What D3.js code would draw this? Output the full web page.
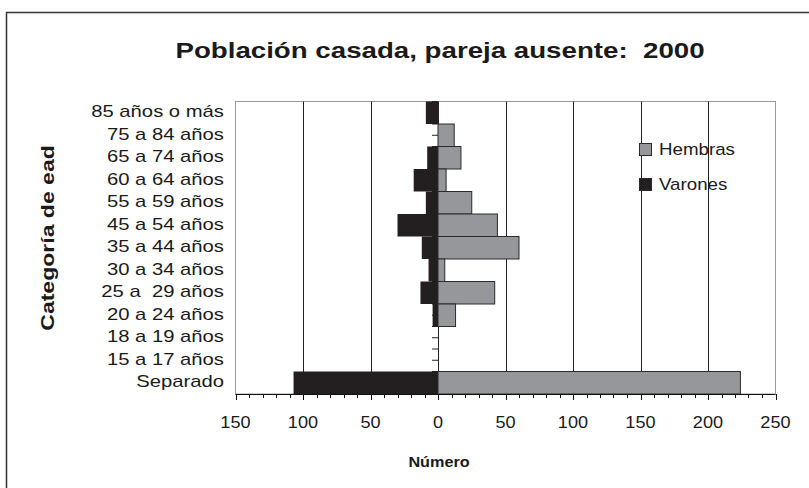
<!DOCTYPE html>
<html><head><meta charset="utf-8">
<script src="https://cdn.jsdelivr.net/npm/d3@7"></script>
<style>html,body{margin:0;padding:0;background:#fff;}svg{display:block;}svg text{white-space:pre;}</style>
</head><body>
<svg id="c" width="809" height="488"></svg>
<script>
const categories = ["85 años o más","75 a 84 años","65 a 74 años","60 a 64 años","55 a 59 años","45 a 54 años","35 a 44 años","30 a 34 años","25 a  29 años","20 a 24 años","18 a 19 años","15 a 17 años","Separado"];
const hembras = [0,12,17,6,25,44,60,5,42,13,0,0,224];
const varones = [9,0,8,18,9,30,12,7,13,4,0,0,107];
const xTicks = [-150,-100,-50,0,50,100,150,200,250];
const xTickLabels = ["150","100","50","0","50","100","150","200","250"];
const title = "Población casada, pareja ausente:  2000";
const yTitle = "Categoría de ead";
const xTitle = "Número";
const legendNames = ["Hembras","Varones"];

(function(){
const svg = d3.select("#c");
const font = "Liberation Sans, Arial, sans-serif";
const cF = "#96979b", cM = "#231f20";
const SX = 1.2;

// outer frame
svg.append("rect").attr("x",6.5).attr("y",12.5).attr("width",900).attr("height",600)
  .attr("fill","none").attr("stroke","#333").attr("stroke-width",1.5);

const x = d3.scaleLinear().domain([-150,250]).range([235.5,775.5]);
const y = d3.scaleBand().domain(categories).range([101.5,394]).padding(0);
const pTop = 101.5, pBot = 394;

// plot border
svg.append("rect").attr("x",x(-150)).attr("y",pTop).attr("width",x(250)-x(-150)).attr("height",pBot-pTop)
  .attr("fill","none").attr("stroke","#9a9a9a").attr("stroke-width",1);

// gridlines
svg.append("g").selectAll("line").data(xTicks.filter(d=>d>-150 && d<250)).join("line")
  .attr("x1",d=>Math.round(x(d))+0.5).attr("x2",d=>Math.round(x(d))+0.5)
  .attr("y1",pTop).attr("y2",pBot).attr("stroke","#222").attr("stroke-width",1);

// category axis ticks (half-band)
const half = y.bandwidth()/2;
const tk = d3.range(0, categories.length*2+1).map(i=>pTop+i*half);
svg.append("g").selectAll("line").data(tk).join("line")
  .attr("x1",x(0)-6).attr("x2",x(0)).attr("y1",d=>d).attr("y2",d=>d)
  .attr("stroke","#222").attr("stroke-width",1);

// bars
const rows = categories.map((c,i)=>({c, f:hembras[i], m:varones[i]}));
svg.append("g").selectAll("rect").data(rows.filter(d=>d.m>0)).join("rect")
  .attr("x",d=>x(-d.m)).attr("width",d=>x(0)-x(-d.m))
  .attr("y",d=>y(d.c)).attr("height",y.bandwidth()).attr("fill",cM);
svg.append("g").selectAll("rect").data(rows.filter(d=>d.f>0)).join("rect")
  .attr("x",x(0)).attr("width",d=>x(d.f)-x(0))
  .attr("y",d=>y(d.c)).attr("height",y.bandwidth()).attr("fill",cF)
  .attr("stroke","#2a2a2a").attr("stroke-width",1);

// x axis
const xa = svg.append("g");
xa.append("line").attr("x1",x(-150)).attr("x2",x(250)).attr("y1",pBot+0.5).attr("y2",pBot+0.5).attr("stroke","#111").attr("stroke-width",1);
xa.selectAll("line.mn").data(d3.range(-150,251,10)).join("line").attr("class","mn")
  .attr("x1",d=>Math.round(x(d))+0.5).attr("x2",d=>Math.round(x(d))+0.5)
  .attr("y1",pBot).attr("y2",d=>pBot+(d%50===0?6:4)).attr("stroke","#111").attr("stroke-width",1);
xa.selectAll("text").data(xTicks).join("text")
  .attr("transform",d=>`translate(${x(d)},428) scale(1.12,1)`).attr("text-anchor","middle")
  .attr("font-family",font).attr("font-size",16.2).attr("fill","#1a1a1a")
  .text((d,i)=>xTickLabels[i]);

// category labels
svg.append("g").selectAll("text").data(categories).join("text")
  .attr("transform",d=>`translate(224,${y(d)+y.bandwidth()/2+4.3}) scale(1.25,1)`).attr("text-anchor","end")
  .attr("font-family",font).attr("font-size",16.2).attr("fill","#1a1a1a").text(d=>d);

// titles
svg.append("text").attr("transform","translate(440,58) scale(1.23,1)").attr("text-anchor","middle")
  .attr("font-family",font).attr("font-weight","bold").attr("font-size",22.5).attr("fill","#1a1a1a").text(title);
svg.append("text").attr("transform","translate(54,238) rotate(-90) scale(1.28,1)").attr("text-anchor","middle")
  .attr("font-family",font).attr("font-weight","bold").attr("font-size",18).attr("fill","#1a1a1a").text(yTitle);
svg.append("text").attr("transform","translate(439,467) scale(1.08,1)").attr("text-anchor","middle")
  .attr("font-family",font).attr("font-weight","bold").attr("font-size",15).attr("fill","#1a1a1a").text(xTitle);

// legend
const lg = svg.append("g");
const lc = [cF,cM], ly=[143.5,178.5];
legendNames.forEach((n,i)=>{
  lg.append("rect").attr("x",639.5).attr("y",ly[i]).attr("width",12).attr("height",12)
    .attr("fill",lc[i]).attr("stroke","#2a2a2a").attr("stroke-width",1);
  lg.append("text").attr("transform",`translate(659,${ly[i]+11.5}) scale(1.17,1)`).attr("font-family",font).attr("font-size",16)
    .attr("fill","#1a1a1a").text(n);
});
})();
</script>
</body></html>
